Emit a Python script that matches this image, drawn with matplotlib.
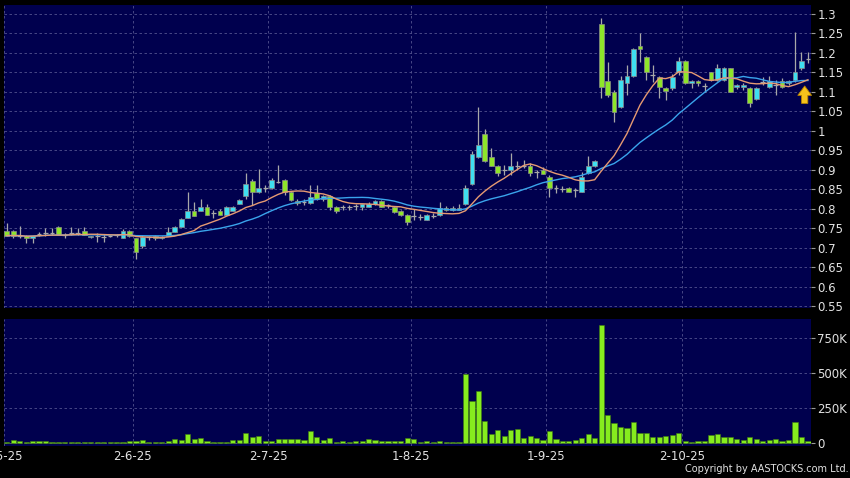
import numpy as np
import pandas as pd
import matplotlib
matplotlib.use("Agg")
import matplotlib.pyplot as plt

# ----------------------------
# Daily bars, index 0 = 2 May 2025
# ----------------------------
opens = [0.742, 0.742, 0.731, 0.731, 0.724, 0.735, 0.737, 0.737, 0.752, 0.733,
         0.737, 0.737, 0.743, 0.728, 0.730, 0.728, 0.730, 0.733, 0.724, 0.743,
         0.724, 0.703, 0.727, 0.730, 0.725, 0.731, 0.741, 0.753, 0.775, 0.794,
         0.794, 0.804, 0.788, 0.794, 0.784, 0.794, 0.812, 0.833, 0.872, 0.842,
         0.852, 0.852, 0.868, 0.874, 0.844, 0.820, 0.818, 0.814, 0.841, 0.824,
         0.832, 0.804, 0.804, 0.804, 0.806, 0.805, 0.805, 0.812, 0.820, 0.810,
         0.805, 0.795, 0.784, 0.780, 0.778, 0.772, 0.782, 0.784, 0.803, 0.797,
         0.797, 0.812, 0.863, 0.932, 0.991, 0.932, 0.910, 0.900, 0.900, 0.910,
         0.910, 0.910, 0.895, 0.900, 0.882, 0.852, 0.850, 0.852, 0.847, 0.844,
         0.891, 0.910, 1.274, 1.129, 1.100, 1.062, 1.122, 1.141, 1.219, 1.190,
         1.143, 1.139, 1.111, 1.111, 1.150, 1.179, 1.122, 1.128, 1.115, 1.150,
         1.131, 1.131, 1.160, 1.113, 1.113, 1.111, 1.082, 1.126, 1.113, 1.118,
         1.129, 1.122, 1.131, 1.161, 1.184]
highs = [0.764, 0.745, 0.755, 0.733, 0.731, 0.741, 0.750, 0.750, 0.755, 0.737,
         0.752, 0.750, 0.752, 0.731, 0.737, 0.735, 0.733, 0.735, 0.748, 0.745,
         0.726, 0.733, 0.731, 0.733, 0.731, 0.752, 0.755, 0.775, 0.842, 0.818,
         0.826, 0.812, 0.796, 0.800, 0.806, 0.806, 0.826, 0.891, 0.875, 0.902,
         0.862, 0.880, 0.912, 0.876, 0.846, 0.826, 0.826, 0.861, 0.861, 0.834,
         0.834, 0.806, 0.810, 0.810, 0.812, 0.812, 0.816, 0.823, 0.822, 0.812,
         0.806, 0.797, 0.786, 0.800, 0.786, 0.786, 0.790, 0.816, 0.808, 0.806,
         0.813, 0.860, 0.948, 1.060, 1.004, 0.955, 0.912, 0.912, 0.942, 0.922,
         0.926, 0.918, 0.900, 0.908, 0.886, 0.862, 0.857, 0.856, 0.852, 0.893,
         0.934, 0.924, 1.290, 1.177, 1.105, 1.140, 1.169, 1.212, 1.250, 1.192,
         1.169, 1.141, 1.113, 1.145, 1.190, 1.181, 1.131, 1.131, 1.122, 1.152,
         1.172, 1.165, 1.162, 1.120, 1.122, 1.113, 1.113, 1.137, 1.140, 1.130,
         1.135, 1.131, 1.253, 1.202, 1.203]
lows = [0.730, 0.724, 0.725, 0.713, 0.713, 0.730, 0.731, 0.732, 0.733, 0.725,
        0.733, 0.733, 0.733, 0.725, 0.715, 0.715, 0.727, 0.727, 0.724, 0.728,
        0.671, 0.700, 0.720, 0.720, 0.722, 0.730, 0.740, 0.752, 0.775, 0.780,
        0.794, 0.784, 0.775, 0.784, 0.784, 0.794, 0.812, 0.826, 0.810, 0.840,
        0.842, 0.850, 0.865, 0.835, 0.820, 0.810, 0.810, 0.812, 0.822, 0.820,
        0.797, 0.790, 0.796, 0.796, 0.796, 0.796, 0.804, 0.810, 0.804, 0.802,
        0.790, 0.782, 0.758, 0.770, 0.770, 0.770, 0.776, 0.782, 0.794, 0.794,
        0.796, 0.810, 0.860, 0.930, 0.920, 0.910, 0.885, 0.887, 0.887, 0.900,
        0.904, 0.885, 0.880, 0.888, 0.830, 0.840, 0.842, 0.842, 0.830, 0.842,
        0.889, 0.908, 1.083, 1.088, 1.022, 1.058, 1.092, 1.138, 1.177, 1.131,
        1.126, 1.083, 1.080, 1.105, 1.143, 1.120, 1.110, 1.115, 1.100, 1.128,
        1.128, 1.128, 1.100, 1.108, 1.105, 1.060, 1.080, 1.118, 1.110, 1.092,
        1.110, 1.118, 1.125, 1.155, 1.173]
closes = [0.731, 0.731, 0.731, 0.724, 0.731, 0.735, 0.737, 0.737, 0.733, 0.733,
          0.737, 0.737, 0.733, 0.731, 0.730, 0.728, 0.730, 0.733, 0.743, 0.731,
          0.690, 0.727, 0.727, 0.724, 0.728, 0.741, 0.752, 0.773, 0.794, 0.782,
          0.804, 0.784, 0.788, 0.784, 0.804, 0.804, 0.823, 0.864, 0.842, 0.852,
          0.852, 0.874, 0.868, 0.844, 0.822, 0.814, 0.818, 0.830, 0.824, 0.832,
          0.804, 0.793, 0.804, 0.804, 0.806, 0.811, 0.811, 0.820, 0.805, 0.810,
          0.792, 0.784, 0.765, 0.780, 0.778, 0.784, 0.782, 0.803, 0.797, 0.803,
          0.803, 0.852, 0.940, 0.964, 0.923, 0.910, 0.891, 0.900, 0.910, 0.910,
          0.910, 0.891, 0.895, 0.890, 0.852, 0.852, 0.850, 0.844, 0.847, 0.882,
          0.910, 0.922, 1.113, 1.092, 1.049, 1.130, 1.141, 1.209, 1.209, 1.152,
          1.143, 1.113, 1.102, 1.139, 1.179, 1.122, 1.128, 1.122, 1.115, 1.131,
          1.160, 1.160, 1.100, 1.118, 1.118, 1.071, 1.111, 1.126, 1.129, 1.118,
          1.113, 1.129, 1.150, 1.179, 1.184]
volumes_k = [10, 21, 15, 10, 14, 14, 14, 10, 8, 5, 8, 8, 10, 10, 10, 7, 4, 4, 10, 13,
             17, 20, 10, 8, 4, 13, 26, 21, 64, 26, 36, 12, 8, 8, 10, 20, 20, 71, 43, 52,
             17, 17, 26, 26, 26, 29, 24, 86, 45, 21, 36, 10, 14, 8, 14, 14, 29, 24, 14, 17,
             17, 15, 38, 26, 10, 14, 8, 14, 6, 6, 6, 490, 300, 369, 157, 64, 90, 50, 90, 100,
             36, 50, 33, 21, 83, 29, 14, 14, 21, 36, 64, 33, 843, 200, 140, 117, 105, 148, 74, 74,
             45, 45, 52, 57, 74, 17, 4, 14, 14, 57, 64, 45, 45, 26, 21, 43, 26, 17, 21, 26,
             17, 21, 148, 45, 14]

# month starts: bar index and label
month_idx = [0, 20, 41, 63, 84, 105]
month_labels = ["2-5-25", "2-6-25", "2-7-25", "1-8-25", "1-9-25", "2-10-25"]

price_ticks = [0.55, 0.6, 0.65, 0.7, 0.75, 0.8, 0.85, 0.9, 0.95, 1.0,
               1.05, 1.1, 1.15, 1.2, 1.25, 1.3]
vol_ticks = [0, 250, 500, 750]
vol_tick_labels = ["0", "250K", "500K", "750K"]

# ----------------------------
# Style
# ----------------------------
BG = "#00004e"
UP = "#3fdff0"
DOWN = "#8ee52a"
GRID = "#52528e"
TXT = "#e2e2e2"

o = np.array(opens)
h = np.array(highs)
l = np.array(lows)
c = np.array(closes)
v = np.array(volumes_k)
x = np.arange(len(c))

ma10 = pd.Series(c).rolling(10, min_periods=1).mean()
ma20 = pd.Series(c).rolling(20, min_periods=1).mean()

fig = plt.figure(figsize=(8.5, 4.78), dpi=100, facecolor="black")
left = 3.5 / 850
width = (810.5 - 3.5) / 850
ax = fig.add_axes([left, 1 - 308 / 478, width, (308 - 5) / 478])
axv = fig.add_axes([left, 1 - 446 / 478, width, (446 - 319) / 478])

xmin, xmax = -0.5, len(c) - 0.6

for a in (ax, axv):
    a.set_facecolor(BG)
    for s in a.spines.values():
        s.set_visible(False)
    a.set_xlim(xmin, xmax)
    a.set_xticks([i - 0.5 for i in month_idx])
    a.grid(True, color=GRID, linestyle=(0, (3, 3)), linewidth=0.6)
    a.set_axisbelow(True)
    a.yaxis.tick_right()
    a.tick_params(axis="y", colors="#9a9a9a", labelcolor=TXT, length=3,
                  width=0.8, pad=2, labelsize=8.5)
    a.tick_params(axis="x", length=0)

# ----------------------------
# Price panel
# ----------------------------
body_w = 0.74
flat = c == o
up = c > o
wick_color = "#a8a8a8"
ax.vlines(x, l, h, color=wick_color, linewidth=0.9, zorder=2)
body_col = np.where(up, UP, DOWN)
ax.bar(x[~flat], np.abs(c - o)[~flat], bottom=np.minimum(o, c)[~flat],
       width=body_w, color=body_col[~flat], edgecolor="#8c8c8c",
       linewidth=0.5, zorder=3)
ax.hlines(o[flat], x[flat] - body_w / 2, x[flat] + body_w / 2,
          color=wick_color, linewidth=0.9, zorder=3)

ax.plot(x, ma20, color="#3aa4ec", linewidth=1.0, zorder=4)
ax.plot(x, ma10, color="#e69a72", linewidth=1.0, zorder=4)

# marker arrow under the last bar
ax.annotate("", xy=(x[-1] - 0.5, ma20.iloc[-1] - 0.007),
            xytext=(x[-1] - 0.5, ma20.iloc[-1] - 0.066),
            arrowprops=dict(arrowstyle="simple,head_length=0.75,head_width=1.1,tail_width=0.5",
                            mutation_scale=9, fc="#f6c21c", ec="#b88300", lw=0.6),
            zorder=6)

ax.set_ylim(0.545, 1.323)
ax.set_yticks(price_ticks)
ax.set_yticklabels([f"{t:g}" for t in price_ticks])
ax.tick_params(axis="x", labelbottom=False)

# ----------------------------
# Volume panel
# ----------------------------
axv.bar(x, v, width=0.8, color="#86ec1e", edgecolor="#3f7a10", linewidth=0.4, zorder=3)
axv.set_ylim(-21, 886)
axv.set_yticks(vol_ticks)
axv.set_yticklabels(vol_tick_labels)
axv.set_xticklabels(month_labels)
axv.tick_params(axis="x", colors=TXT, labelsize=8.5, pad=3)

fig.text(0.998, 0.008, "Copyright by AASTOCKS.com Ltd.", color=TXT, ha="right",
         va="bottom", fontsize=7)

fig.savefig("out.png", dpi=100, facecolor="black")
